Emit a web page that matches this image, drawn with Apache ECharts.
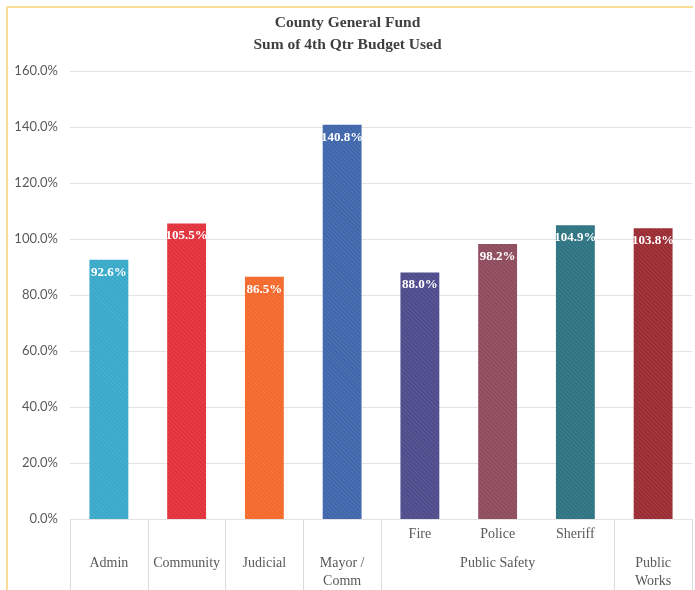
<!DOCTYPE html>
<html>
<head>
<meta charset="utf-8">
<script src="https://cdn.jsdelivr.net/npm/echarts@6/dist/echarts.min.js"></script>
<style>
html,body{margin:0;padding:0;background:#fff;}
#c{width:695px;height:590px;}
</style>
</head>
<body>
<div id="c"></div>
<script>
const titleLines = ['County General Fund', 'Sum of 4th Qtr Budget Used'];
const categories = ['Admin', 'Community', 'Judicial', 'Mayor/Comm', 'Fire', 'Police', 'Sheriff', 'Public Works'];
const subLabels = ['', '', '', '', 'Fire', 'Police', 'Sheriff', ''];
const groupLabels = ['Admin', 'Community', 'Judicial', 'Mayor /\nComm', '', 'Public Safety', '', 'Public\nWorks'];
const groupStarts = [0, 1, 2, 3, 4, 7];
const values = [92.6, 105.5, 86.5, 140.8, 88.0, 98.2, 104.9, 103.8];
const barColors = ['#38a9c9', '#e2313b', '#f4692b', '#3f66ab', '#4d4b8b', '#8e4b5c', '#2d7381', '#9b2b33'];
const yMin = 0, yMax = 160, yStep = 20;

const chart = echarts.init(document.getElementById('c'), null, {renderer: 'canvas'});
const serif = "'Liberation Serif', 'DejaVu Serif', serif";
chart.setOption({
  backgroundColor: '#ffffff',
  animation: false,
  title: {
    text: titleLines.join('\n'),
    left: 'center',
    top: 7,
    textStyle: {fontFamily: serif, fontWeight: 'bold', fontSize: 15.5, color: '#404040', lineHeight: 22}
  },
  graphic: [
    {type: 'line', shape: {x1: 7, y1: 7, x2: 7, y2: 590}, style: {stroke: '#f8df95', lineWidth: 2}},
    {type: 'line', shape: {x1: 7, y1: 7, x2: 693, y2: 7}, style: {stroke: '#f8df95', lineWidth: 2}}
  ],
  grid: {left: 70, right: 3, top: 71, bottom: 71, containLabel: false},
  xAxis: [
    {
      type: 'category',
      data: subLabels,
      position: 'bottom',
      axisLine: {show: false},
      axisTick: {show: false},
      axisLabel: {interval: 0, margin: 8, fontFamily: serif, fontSize: 14, color: '#595959'}
    },
    {
      type: 'category',
      data: groupLabels,
      position: 'bottom',
      offset: 0,
      axisLine: {show: false},
      axisTick: {
        show: true,
        length: 72,
        interval: function (idx) { return groupStarts.indexOf(idx) >= 0; },
        lineStyle: {color: '#dcdcdc', width: 1}
      },
      axisLabel: {interval: 0, margin: 35, lineHeight: 18, fontFamily: serif, fontSize: 14, color: '#595959'}
    }
  ],
  yAxis: {
    type: 'value',
    min: yMin, max: yMax, interval: yStep,
    axisLine: {show: false},
    axisTick: {show: false},
    axisLabel: {
      margin: 12,
      fontFamily: "Lato, 'Noto Sans', sans-serif",
      fontSize: 13,
      color: '#595959',
      formatter: function (v) { return v.toFixed(1) + '%'; }
    },
    splitLine: {lineStyle: {color: '#e3e3e3', width: 1}}
  },
  series: [{
    type: 'bar',
    xAxisIndex: 0,
    barWidth: '50%',
    data: values.map(function (v, i) {
      return {value: v, name: categories[i], itemStyle: {color: barColors[i]}};
    }),
    itemStyle: {
      decal: {symbol: 'rect', symbolSize: 1, dashArrayX: [1, 0], dashArrayY: [1, 2], rotation: Math.PI / 4, color: 'rgba(255,255,255,0.09)'}
    },
    label: {
      show: true,
      position: 'insideTop',
      distance: 6,
      fontFamily: serif,
      fontWeight: 'bold',
      fontSize: 13,
      color: '#ffffff',
      formatter: function (p) { return p.value.toFixed(1) + '%'; }
    }
  }]
});
</script>
</body>
</html>
